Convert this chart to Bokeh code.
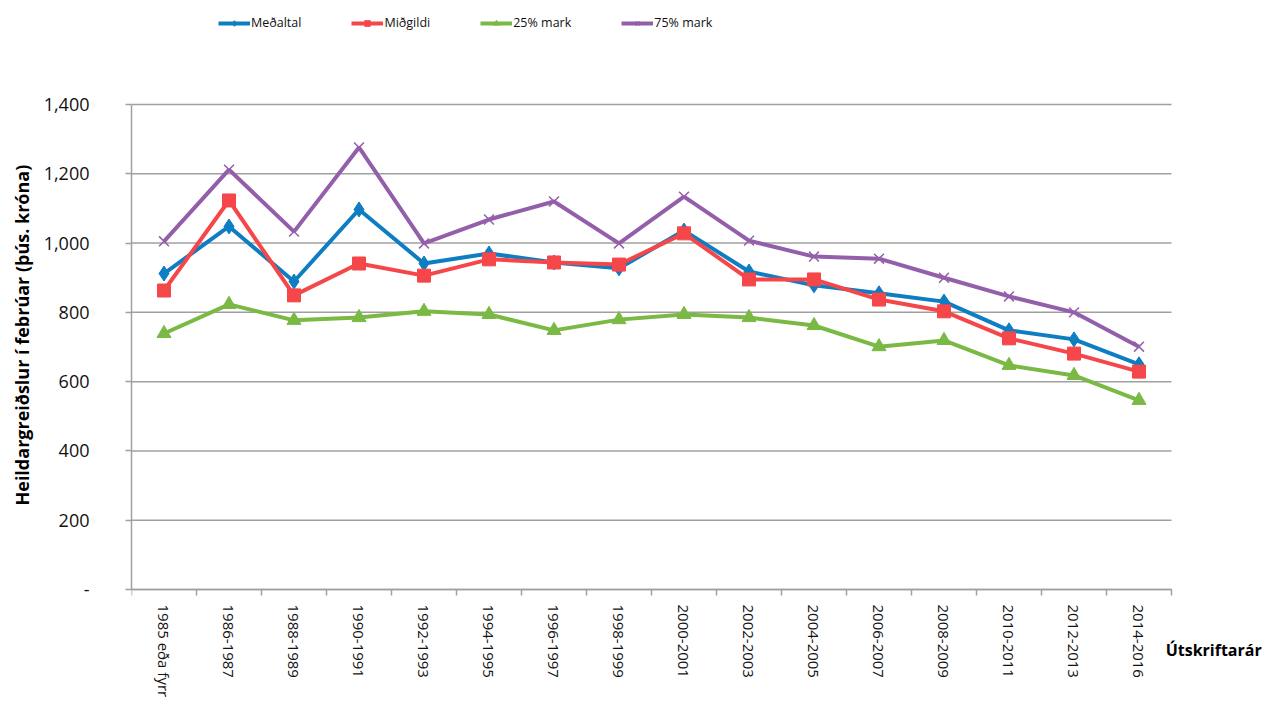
from bokeh.plotting import figure
from bokeh.models import (FixedTicker, Legend, LegendItem, NumeralTickFormatter, Label,
                          Range1d, ColumnDataSource)
from bokeh.embed import file_html
from bokeh.resources import INLINE

categories = ["1985 eða fyrr", "1986-1987", "1988-1989", "1990-1991", "1992-1993",
              "1994-1995", "1996-1997", "1998-1999", "2000-2001", "2002-2003",
              "2004-2005", "2006-2007", "2008-2009", "2010-2011", "2012-2013", "2014-2016"]
medaltal = [912, 1048, 889, 1097, 941, 970, 944, 927, 1036, 918, 878, 855, 831, 748, 722, 650]
midgildi = [863, 1123, 849, 941, 906, 953, 944, 938, 1028, 895, 895, 837, 803, 725, 681, 629]
mark25 = [739, 823, 777, 785, 803, 794, 748, 779, 794, 785, 762, 701, 719, 647, 618, 546]
mark75 = [1005, 1212, 1033, 1276, 999, 1068, 1120, 999, 1134, 1007, 961, 955, 900, 846, 800, 701]
y_ticks = [0, 200, 400, 600, 800, 1000, 1200, 1400]

FONT = "Open Sans"
N = len(categories)
xs = [i + 0.5 for i in range(N)]
src = ColumnDataSource(dict(x=xs, m=medaltal, g=midgildi, a=mark25, b=mark75))

# the frame is widened/raised/lowered beyond the data area so that the legend,
# the category labels and the x-axis title (outside the plotted area) are not clipped
p = figure(width=1266, height=716, output_backend="svg", toolbar_location=None,
           x_range=Range1d(0, 17.4615), y_range=Range1d(-366.6, 1700.2),
           min_border_left=131, min_border_right=0, min_border_top=0, min_border_bottom=0)
p.outline_line_color = None
p.background_fill_color = "white"
p.border_fill_color = "white"
p.xgrid.grid_line_color = None
p.ygrid.grid_line_color = None

GRID = "#A0A0A0"
# horizontal gridlines over the data area only
p.segment(x0=[0] * len(y_ticks), x1=[N] * len(y_ticks), y0=y_ticks, y1=y_ticks,
          line_color=GRID, line_width=1.5)

# x axis, pinned at y = 0
p.xaxis.fixed_location = 0
p.xaxis.bounds = (0, N)
p.xaxis.ticker = FixedTicker(ticks=xs, minor_ticks=list(range(N + 1)))
p.xaxis.major_label_overrides = {x: c for x, c in zip(xs, categories)}
p.xaxis.major_label_orientation = "vertical"
p.xaxis.major_tick_line_color = None
p.xaxis.minor_tick_out = 6
p.xaxis.minor_tick_in = 0
p.xaxis.minor_tick_line_color = GRID
p.xaxis.minor_tick_line_width = 1.5
p.xaxis.axis_line_color = GRID
p.xaxis.axis_line_width = 1.5
p.xaxis.major_label_standoff = 9
p.xaxis.major_label_text_font = FONT
p.xaxis.major_label_text_font_size = "15px"
p.xaxis.major_label_text_color = "#111111"

p.yaxis.bounds = (0, 1400)
p.yaxis.ticker = FixedTicker(ticks=y_ticks, minor_ticks=[])
p.yaxis.formatter = NumeralTickFormatter(format="0,0")
p.yaxis.major_label_overrides = {0: "-"}
p.yaxis.major_tick_out = 6
p.yaxis.major_tick_in = 0
p.yaxis.major_tick_line_color = GRID
p.yaxis.major_tick_line_width = 1.5
p.yaxis.minor_tick_line_color = None
p.yaxis.axis_line_color = GRID
p.yaxis.axis_line_width = 1.5
p.yaxis.major_label_standoff = 36
p.yaxis.major_label_text_font = FONT
p.yaxis.major_label_text_font_size = "18px"
p.yaxis.major_label_text_color = "#111111"
# leading non-breaking spaces lift the centred title to the data area's middle
p.yaxis.axis_label = "\u00a0" * 10 + "Heildargreiðslur í febrúar (þús. króna)"
p.yaxis.axis_label_text_font = FONT
p.yaxis.axis_label_text_font_size = "18px"
p.yaxis.axis_label_text_font_style = "bold"
p.yaxis.axis_label_text_color = "black"
p.yaxis.axis_label_standoff = 7

blue, red, green, purple = "#0E7DC2", "#F5474A", "#79B944", "#945FAA"
LW = 4

r1l = p.line("x", "m", source=src, line_color=blue, line_width=LW)
r1m = p.scatter("x", "m", source=src, marker="diamond", size=15, fill_color=blue, line_color=blue)
r2l = p.line("x", "g", source=src, line_color=red, line_width=LW)
r2m = p.scatter("x", "g", source=src, marker="square", size=13, fill_color=red, line_color=red)
r3l = p.line("x", "a", source=src, line_color=green, line_width=LW)
r3m = p.scatter("x", "a", source=src, marker="triangle", size=14, fill_color=green, line_color=green)
r4l = p.line("x", "b", source=src, line_color=purple, line_width=LW)
r4m = p.scatter("x", "b", source=src, marker="x", size=14, line_color=purple, line_width=1.5)

legend = Legend(items=[
    LegendItem(label="Meðaltal", renderers=[r1l, r1m]),
    LegendItem(label="Miðgildi", renderers=[r2l, r2m]),
    LegendItem(label="25% mark", renderers=[r3l, r3m]),
    LegendItem(label="75% mark", renderers=[r4l, r4m]),
], orientation="horizontal", location=(87, 685), border_line_color=None,
    background_fill_alpha=0, padding=0, margin=0, spacing=50, label_standoff=1,
    glyph_width=32, glyph_height=14, label_text_font=FONT, label_text_font_size="12.5px",
    label_text_color="#111111")
p.add_layout(legend, "center")

p.add_layout(Label(x=15.91, y=-176, text="Útskriftarár", text_font=FONT,
                   text_font_size="16px", text_font_style="bold", text_baseline="middle",
                   text_color="black"))

open("out.html", "w").write(file_html(p, INLINE))
